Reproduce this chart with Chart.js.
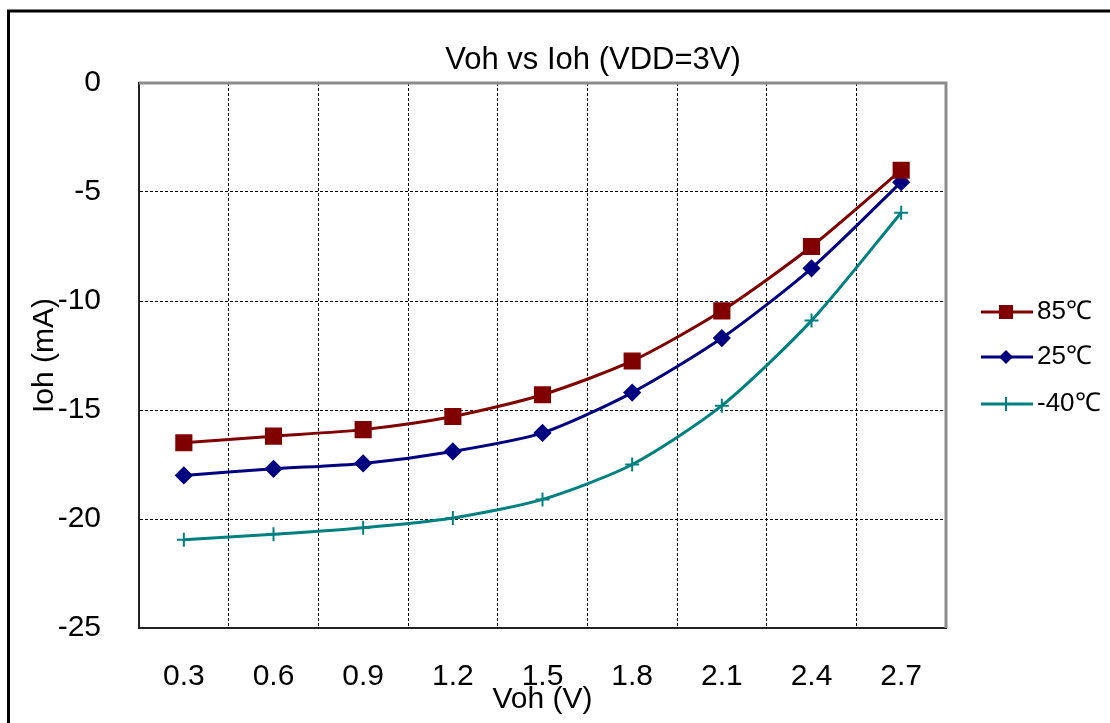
<!DOCTYPE html>
<html>
<head>
<meta charset="utf-8">
<script src="https://cdn.jsdelivr.net/npm/chart.js@4/dist/chart.umd.min.js"></script>
<style>
  html, body { margin: 0; padding: 0; background: #fff; }
  #wrap { width: 1110px; height: 723px; }
</style>
</head>
<body>
<div id="wrap"><canvas id="chart" width="1110" height="723"></canvas></div>
<script>
// Voh (V) categories
var vohLabels = ['0.3', '0.6', '0.9', '1.2', '1.5', '1.8', '2.1', '2.4', '2.7'];
// Ioh (mA) per temperature
var ioh85 = [-16.5, -16.2, -15.9, -15.3, -14.3, -12.75, -10.45, -7.5, -4.0];
var ioh25 = [-18.0, -17.7, -17.45, -16.9, -16.05, -14.2, -11.7, -8.5, -4.55];
var iohMinus40 = [-20.95, -20.7, -20.4, -19.95, -19.1, -17.5, -14.8, -10.9, -5.95];
var seriesNames = ['85\u2103', '25\u2103', '-40\u2103'];

var FONT = "'Liberation Sans', Arial, sans-serif";

var framePlugin = {
  id: 'frame',
  beforeDraw: function(chart) {
    var ctx = chart.ctx;
    ctx.save();
    ctx.fillStyle = '#fff';
    ctx.fillRect(0, 0, chart.width, chart.height);
    ctx.strokeStyle = '#000';
    ctx.lineWidth = 3;
    ctx.beginPath();
    ctx.moveTo(8.5, 730);
    ctx.lineTo(8.5, 11);
    ctx.lineTo(1120, 11);
    ctx.stroke();
    ctx.restore();
  },
  beforeDatasetsDraw: function(chart) {
    var a = chart.chartArea, ctx = chart.ctx;
    ctx.save();
    ctx.strokeStyle = '#8c8c8c';
    ctx.lineWidth = 3;
    ctx.beginPath();
    ctx.moveTo(a.left, a.top);
    ctx.lineTo(a.right, a.top);
    ctx.lineTo(a.right, a.bottom);
    ctx.stroke();
    ctx.restore();
  },
  afterDraw: function(chart) {
    var ctx = chart.ctx;
    ctx.save();
    // title
    ctx.fillStyle = '#000';
    ctx.font = '31px ' + FONT;
    ctx.textAlign = 'center';
    ctx.textBaseline = 'middle';
    ctx.fillText('Voh vs Ioh (VDD=3V)', 593, 60);

    // legend
    var rows = [312, 357, 404];
    chart.data.datasets.forEach(function(ds, i) {
      var y = rows[i];
      ctx.strokeStyle = ds.borderColor;
      ctx.fillStyle = ds.borderColor;
      ctx.lineWidth = 3;
      ctx.beginPath();
      ctx.moveTo(981, y);
      ctx.lineTo(1033, y);
      ctx.stroke();
      var cx = 1006;
      if (ds.pointStyle === 'rect') {
        ctx.fillRect(cx - 7, y - 7, 14, 14);
      } else if (ds.pointStyle === 'rectRot') {
        ctx.beginPath();
        ctx.moveTo(cx, y - 7);
        ctx.lineTo(cx + 7, y);
        ctx.lineTo(cx, y + 7);
        ctx.lineTo(cx - 7, y);
        ctx.closePath();
        ctx.fill();
      } else {
        ctx.lineWidth = 2;
        ctx.beginPath();
        ctx.moveTo(cx, y - 7);
        ctx.lineTo(cx, y + 7);
        ctx.stroke();
      }
      ctx.fillStyle = '#000';
      ctx.font = '26px ' + FONT;
      ctx.textAlign = 'left';
      ctx.fillText(ds.label, 1037, y);
    });
    ctx.restore();
  }
};

new Chart(document.getElementById('chart').getContext('2d'), {
  type: 'line',
  data: {
    labels: vohLabels,
    datasets: [{
      label: seriesNames[0],
      data: ioh85,
      borderColor: '#800000',
      backgroundColor: '#800000',
      borderWidth: 3,
      pointStyle: 'rect',
      pointRadius: 10,
      tension: 0.25
    }, {
      label: seriesNames[1],
      data: ioh25,
      borderColor: '#000080',
      backgroundColor: '#000080',
      borderWidth: 3,
      pointStyle: 'rectRot',
      pointRadius: 7,
      tension: 0.25
    }, {
      label: seriesNames[2],
      data: iohMinus40,
      borderColor: '#008080',
      backgroundColor: '#008080',
      borderWidth: 3,
      pointStyle: 'cross',
      pointRadius: 7,
      pointBorderWidth: 2,
      tension: 0.25
    }]
  },
  options: {
    responsive: false,
    animation: false,
    layout: { padding: { top: 83, right: 164, bottom: 0, left: 0 } },
    plugins: {
      legend: { display: false },
      title: { display: false },
      tooltip: { enabled: false }
    },
    scales: {
      x: {
        type: 'category',
        offset: true,
        afterFit: function(scale) { scale.height = 95; },
        grid: { offset: true, color: '#000', lineWidth: 1, drawTicks: false },
        border: { display: true, color: '#222', width: 2, dash: [3, 2] },
        ticks: { color: '#000', padding: 31, font: { family: FONT, size: 30 } },
        title: {
          display: true,
          text: 'Voh (V)',
          color: '#000',
          font: { family: FONT, size: 30 },
          padding: { top: 0, bottom: 5 }
        }
      },
      y: {
        min: -25,
        max: 0,
        afterFit: function(scale) { scale.width = 139; },
        grid: { color: '#000', lineWidth: 1, drawTicks: false },
        border: { display: true, color: '#222', width: 2, dash: [3, 2] },
        ticks: {
          stepSize: 5,
          color: '#000',
          padding: 38,
          font: { family: FONT, size: 30 }
        },
        title: {
          display: true,
          text: 'Ioh (mA)',
          color: '#000',
          font: { family: FONT, size: 30 },
          padding: { top: 27, bottom: 0 }
        }
      }
    }
  },
  plugins: [framePlugin]
});
</script>
</body>
</html>
